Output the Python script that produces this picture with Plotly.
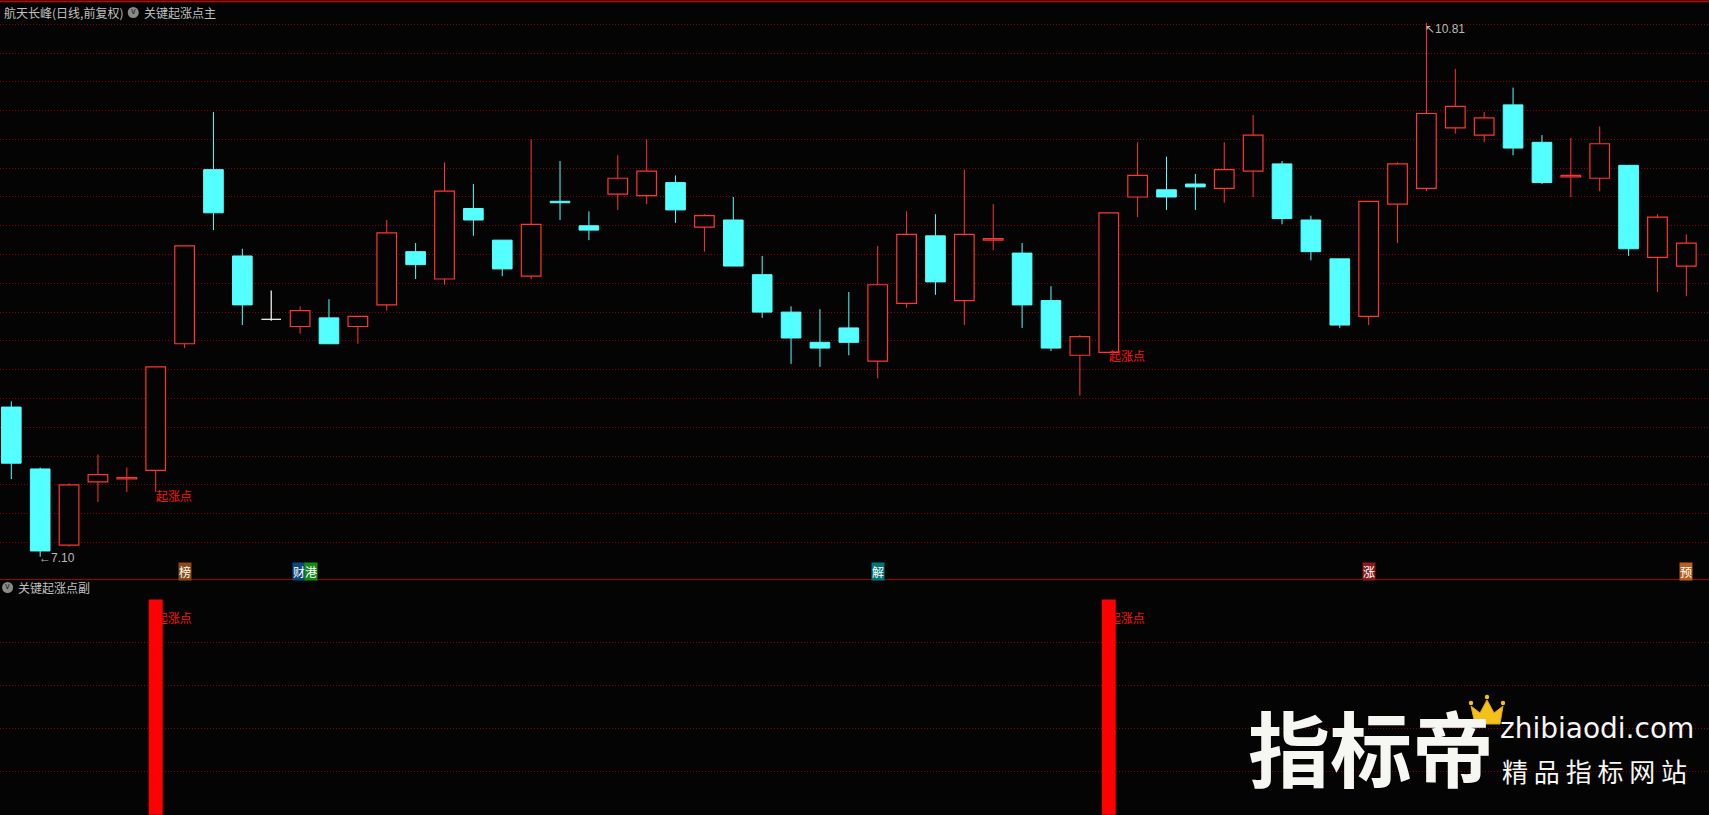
import plotly.graph_objects as go

# ---------------- data ----------------
OPEN = [8.14, 7.71, 7.18, 7.62, 7.64, 7.70, 8.58, 9.79, 9.19, 8.75,
        8.70, 8.76, 8.70, 8.85, 9.22, 9.03, 9.52, 9.30, 9.05, 9.57,
        9.40, 9.62, 9.61, 9.70, 9.39, 9.44, 9.06, 8.80, 8.59, 8.69,
        8.46, 8.86, 9.33, 8.88, 9.30, 9.21, 8.88, 8.50, 8.52, 9.60,
        9.65, 9.69, 9.66, 9.78, 9.83, 9.44, 9.17, 8.77, 9.55, 9.66,
        10.08, 10.03, 10.24, 9.98, 9.74, 9.73, 9.82, 9.18, 9.12]
HIGH = [8.18, 7.72, 7.61, 7.81, 7.72, 8.42, 9.26, 10.19, 9.24, 8.95,
        8.84, 8.89, 8.77, 9.44, 9.28, 9.84, 9.69, 9.30, 10.00, 9.85,
        9.50, 9.89, 10.00, 9.75, 9.48, 9.60, 9.19, 8.84, 8.82, 8.94,
        9.26, 9.50, 9.48, 9.79, 9.55, 9.28, 8.98, 8.64, 9.49, 9.98,
        9.88, 9.76, 9.98, 10.17, 9.85, 9.47, 9.17, 9.57, 9.84, 10.81,
        10.49, 10.19, 10.36, 10.03, 10.01, 10.09, 9.82, 9.48, 9.34]
LOW = [7.64, 7.10, 7.17, 7.48, 7.55, 7.55, 8.55, 9.37, 8.71, 8.74,
       8.65, 8.58, 8.58, 8.81, 9.03, 8.99, 9.33, 9.05, 9.03, 9.44,
       9.30, 9.51, 9.55, 9.42, 9.22, 9.12, 8.76, 8.44, 8.42, 8.50,
       8.34, 8.83, 8.92, 8.71, 9.23, 8.69, 8.53, 8.22, 8.52, 9.46,
       9.51, 9.51, 9.56, 9.60, 9.41, 9.16, 8.69, 8.71, 9.28, 9.64,
       10.04, 9.98, 9.89, 9.69, 9.60, 9.64, 9.19, 8.94, 8.91]
CLOSE = [7.75, 7.14, 7.60, 7.67, 7.65, 8.42, 9.26, 9.49, 8.85, 8.75,
         8.81, 8.58, 8.77, 9.35, 9.13, 9.64, 9.44, 9.10, 9.41, 9.56,
         9.37, 9.73, 9.78, 9.51, 9.47, 9.12, 8.80, 8.62, 8.55, 8.59,
         8.99, 9.34, 9.01, 9.34, 9.31, 8.85, 8.55, 8.63, 9.49, 9.75,
         9.60, 9.67, 9.79, 10.03, 9.45, 9.22, 8.71, 9.57, 9.83, 10.18,
         10.23, 10.15, 9.94, 9.70, 9.75, 9.97, 9.24, 9.46, 9.28]

SIGNAL_IDX = [5, 38]          # 起涨点 signals
SIGNAL_VAL = [1, 1]
SIGNAL_LABEL = "起涨点"

GRID_PRICES = [7.2, 7.4, 7.6, 7.8, 8.0, 8.2, 8.4, 8.6, 8.8, 9.0,
               9.2, 9.4, 9.6, 9.8, 10.0, 10.2, 10.4, 10.6, 10.8]
GRID_SUB = [0.2, 0.4, 0.6, 0.8]

MARK_IDX = [6, 10, 10, 30, 47, 58]
MARK_TEXT = ["榜", "财", "港", "解", "涨", "预"]
MARK_BG = ["#8b4a14", "#10467e", "#158a15", "#007878", "#8a1c1c", "#b8601a"]
MARK_SHIFT = [0, -1, 11, 0, 0, 0]

TITLE_MAIN = "航天长峰(日线,前复权)"
IND_MAIN = "关键起涨点主"
IND_SUB = "关键起涨点副"

# ---------------- style ----------------
W, H = 1709, 815
BG = "#040404"
RED = "#ff3434"
CYAN = "#54ffff"
GRID = "#8e0000"
TXT = "#c0c0c0"
N = len(OPEN)
BODY_W = 0.68

# pixel geometry
STEP_PX = 28.88
X0_PX = 11.3
xr = [-X0_PX / STEP_PX, -X0_PX / STEP_PX + W / STEP_PX]
PX_PER_UNIT = 143.9
REF_PRICE, REF_PX = 10.8, 24.3
MAIN_TOP, MAIN_BOT = 2.0, 579.0
yr = [REF_PRICE - (MAIN_BOT - REF_PX) / PX_PER_UNIT, REF_PRICE + (REF_PX - MAIN_TOP) / PX_PER_UNIT]
SUB_TOP = 581.0
SUB_PPU = 215.25
SUB_ZERO_PX = 814.75
y2r = [(SUB_ZERO_PX - H) / SUB_PPU, (SUB_ZERO_PX - SUB_TOP) / SUB_PPU]


def px(x):
    return x / W


def py(y):
    return 1 - y / H


idx = list(range(N))
up = [i for i in idx if CLOSE[i] > OPEN[i]]
dn = [i for i in idx if CLOSE[i] < OPEN[i]]
fl = [i for i in idx if CLOSE[i] == OPEN[i]]


def wick_xy(ids):
    xs, ys = [], []
    for i in ids:
        top = max(OPEN[i], CLOSE[i])
        bot = min(OPEN[i], CLOSE[i])
        if HIGH[i] > top:
            xs += [i, i, None]
            ys += [HIGH[i], top, None]
        if LOW[i] < bot:
            xs += [i, i, None]
            ys += [bot, LOW[i], None]
    return xs, ys


fig = go.Figure()

# bodies
fig.add_trace(go.Bar(x=up, y=[CLOSE[i] - OPEN[i] for i in up], base=[OPEN[i] for i in up],
                     width=BODY_W, marker=dict(color=BG, line=dict(color=RED, width=1.2)),
                     hoverinfo="skip", xaxis="x", yaxis="y"))
fig.add_trace(go.Bar(x=dn, y=[OPEN[i] - CLOSE[i] for i in dn], base=[CLOSE[i] for i in dn],
                     width=BODY_W, marker=dict(color=CYAN, line=dict(color=CYAN, width=1)),
                     hoverinfo="skip", xaxis="x", yaxis="y"))

# wicks
for ids, col in [(up, RED), (dn, CYAN)]:
    wx, wy = wick_xy(ids)
    fig.add_trace(go.Scatter(x=wx, y=wy, mode="lines", line=dict(color=col, width=1),
                             hoverinfo="skip", xaxis="x", yaxis="y"))
# doji (white)
dx, dy = [], []
for i in fl:
    dx += [i, i, None, i - BODY_W / 2, i + BODY_W / 2, None]
    dy += [HIGH[i], LOW[i], None, OPEN[i], OPEN[i], None]
fig.add_trace(go.Scatter(x=dx, y=dy, mode="lines", line=dict(color="#ffffff", width=1.2),
                         hoverinfo="skip", xaxis="x", yaxis="y"))

# sub panel: label behind the signal bars
fig.add_trace(go.Scatter(x=SIGNAL_IDX, y=[v * 0.905 for v in SIGNAL_VAL], mode="text",
                         text=[SIGNAL_LABEL] * len(SIGNAL_IDX), textposition="middle right",
                         textfont=dict(color="#ff1010", size=12, family="Noto Sans CJK SC"),
                         hoverinfo="skip", xaxis="x2", yaxis="y2"))
sx, sy = [], []
for i, v in zip(SIGNAL_IDX, SIGNAL_VAL):
    sx += [i, i, None]
    sy += [0, v, None]
fig.add_trace(go.Scatter(x=sx, y=sy, mode="lines", line=dict(color="#ff0000", width=14),
                         hoverinfo="skip", xaxis="x2", yaxis="y2"))

ann = []
# signal labels in main panel
for i in SIGNAL_IDX:
    ann.append(dict(x=i, y=LOW[i], xref="x", yref="y", text=SIGNAL_LABEL, showarrow=False,
                    xanchor="left", yanchor="top", xshift=-2, yshift=7,
                    font=dict(color="#ff1010", size=12, family="Noto Sans CJK SC")))

# high / low price marks
imax = max(idx, key=lambda i: HIGH[i])
imin = min(idx, key=lambda i: LOW[i])
ann.append(dict(x=imax, y=HIGH[imax], xref="x", yref="y", text="↖%.2f" % HIGH[imax], showarrow=False,
                xanchor="left", yanchor="top", xshift=-3, yshift=3,
                font=dict(color="#b8b8b8", size=12, family="Liberation Sans")))
ann.append(dict(x=imin, y=LOW[imin], xref="x", yref="y", text="←%.2f" % LOW[imin], showarrow=False,
                xanchor="left", yanchor="middle", xshift=-3, yshift=-1,
                font=dict(color="#b8b8b8", size=12, family="Liberation Sans")))

# event markers at bottom of main panel
for i, t, c, s in zip(MARK_IDX, MARK_TEXT, MARK_BG, MARK_SHIFT):
    ann.append(dict(x=i, y=py(571.5), xref="x", yref="paper", text=t, showarrow=False,
                    xanchor="center", yanchor="middle", xshift=s, bgcolor=c, borderpad=0,
                    font=dict(color="#ffffff", size=12, family="Noto Sans CJK SC")))

# titles
ann.append(dict(x=px(2), y=py(12.7), xref="paper", yref="paper", text=TITLE_MAIN, showarrow=False,
                xanchor="left", yanchor="middle", font=dict(color=TXT, size=12, family="Noto Sans CJK SC")))
ann.append(dict(x=px(142), y=py(12.7), xref="paper", yref="paper", text=IND_MAIN, showarrow=False,
                xanchor="left", yanchor="middle", font=dict(color=TXT, size=12, family="Noto Sans CJK SC")))
ann.append(dict(x=px(16), y=py(587.5), xref="paper", yref="paper", text=IND_SUB, showarrow=False,
                xanchor="left", yanchor="middle", font=dict(color=TXT, size=12, family="Noto Sans CJK SC")))
for cx, cy in [(133.2, 12.5), (7.6, 587.5)]:
    ann.append(dict(x=px(cx), y=py(cy), xref="paper", yref="paper", text="v", showarrow=False,
                    xanchor="center", yanchor="middle", yshift=1,
                    font=dict(color="#1a1a1a", size=8, family="DejaVu Sans")))

# watermark
ann.append(dict(x=px(1246), y=py(745), xref="paper", yref="paper", text="<b>指标帝</b>", showarrow=False,
                xanchor="left", yanchor="middle", font=dict(color="#f6f6f2", size=82, family="Noto Sans CJK SC")))
ann.append(dict(x=px(1498), y=py(728), xref="paper", yref="paper", text="zhibiaodi.com", showarrow=False,
                xanchor="left", yanchor="middle", font=dict(color="#f6f6f2", size=28, family="DejaVu Sans")))
ann.append(dict(x=px(1500), y=py(770), xref="paper", yref="paper", text="精 品 指 标 网 站", showarrow=False,
                xanchor="left", yanchor="middle", font=dict(color="#f6f6f2", size=26, family="Noto Sans CJK SC")))

shapes = [
    dict(type="line", xref="paper", yref="paper", x0=0, x1=1, y0=py(1.5), y1=py(1.5),
         line=dict(color="#d40000", width=1.5)),
    dict(type="line", xref="paper", yref="paper", x0=0, x1=1, y0=py(579.5), y1=py(579.5),
         line=dict(color="#a00000", width=1)),
]
for cx, cy in [(133.2, 12.5), (7.6, 587.5)]:
    shapes.append(dict(type="circle", xref="paper", yref="paper",
                       x0=px(cx - 5.5), x1=px(cx + 5.5), y0=py(cy + 5.5), y1=py(cy - 5.5),
                       fillcolor="#8a8a8a", line=dict(width=0)))

# crown logo (decoration drawn as a path, in pixel space of the page)
crown_pts = [(1475, 724), (1471, 706), (1480, 713), (1487, 700), (1494, 713), (1503, 706), (1500, 724)]
crown_path = "M " + " L ".join("%.5f,%.5f" % (px(a), py(b)) for a, b in crown_pts) + " Z"
shapes.append(dict(type="path", xref="paper", yref="paper", path=crown_path,
                   fillcolor="#f4c01c", line=dict(color="#e0a810", width=1)))
for a, b in [(1471, 703), (1487, 697), (1503, 703)]:
    shapes.append(dict(type="circle", xref="paper", yref="paper",
                       x0=px(a - 2.2), x1=px(a + 2.2), y0=py(b + 2.2), y1=py(b - 2.2),
                       fillcolor="#f4c01c", line=dict(width=0)))

axis_off = dict(showgrid=False, zeroline=False, showticklabels=False, ticks="", showline=False, fixedrange=True)
fig.update_layout(
    width=W, height=H, margin=dict(l=0, r=0, t=0, b=0, pad=0),
    paper_bgcolor=BG, plot_bgcolor=BG, showlegend=False, barmode="overlay", bargap=0,
    xaxis=dict(range=xr, domain=[0, 1], anchor="y", **axis_off),
    yaxis=dict(range=yr, domain=[py(MAIN_BOT), py(MAIN_TOP)], anchor="x", tickvals=GRID_PRICES,
               showgrid=True, gridcolor=GRID, griddash="1px,2px", gridwidth=1,
               zeroline=False, showticklabels=False, ticks="", showline=False, fixedrange=True),
    xaxis2=dict(range=xr, domain=[0, 1], anchor="y2", **axis_off),
    yaxis2=dict(range=y2r, domain=[0, py(SUB_TOP)], anchor="x2", tickvals=GRID_SUB,
                showgrid=True, gridcolor=GRID, griddash="1px,2px", gridwidth=1,
                zeroline=False, showticklabels=False, ticks="", showline=False, fixedrange=True),
    annotations=ann, shapes=shapes,
)

fig.write_html("out.html", config={"displayModeBar": False, "staticPlot": True},
               post_script="document.body.style.margin='0px';document.body.style.overflow='hidden';")
